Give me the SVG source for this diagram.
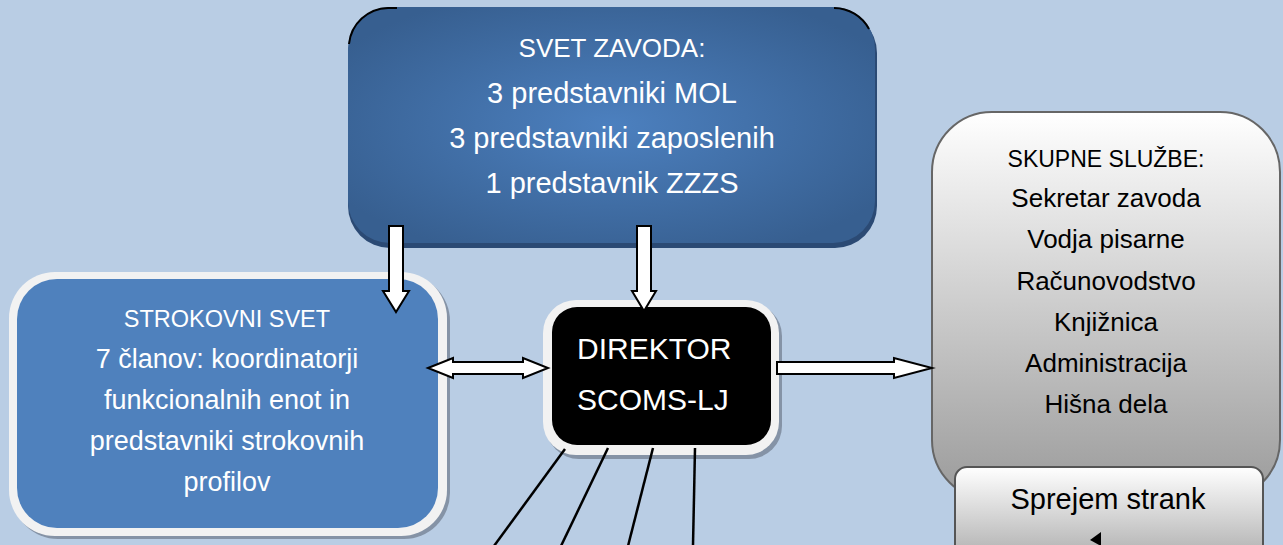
<svg xmlns="http://www.w3.org/2000/svg" width="1283" height="545" viewBox="0 0 1283 545">
<defs>
<radialGradient id="gTop" cx="0.5" cy="0.5" r="0.6">
<stop offset="0" stop-color="#4C80BF"/>
<stop offset="1" stop-color="#375F90"/>
</radialGradient>
<linearGradient id="gGray" x1="0" y1="0" x2="0" y2="1">
<stop offset="0" stop-color="#FFFFFF"/>
<stop offset="1" stop-color="#9A9A9A"/>
</linearGradient>
<linearGradient id="gBtn" x1="0" y1="0" x2="0" y2="1">
<stop offset="0" stop-color="#FFFFFF"/>
<stop offset="1" stop-color="#A8A8A8"/>
</linearGradient>
</defs>
<style>
.t{font-family:"Liberation Sans",Arial,sans-serif;text-anchor:middle}
.w{fill:#FFFFFF}
.k{fill:#000000}
.arr{fill:#FFFFFF;stroke:#000000;stroke-width:2;stroke-linejoin:miter}
.ln{stroke:#000000;stroke-width:2.5;fill:none}
</style>
<rect width="1283" height="545" fill="#B9CDE4"/>

<g id="svet-zavoda">
<rect x="348" y="11" width="529" height="237" rx="42" fill="#2B4A74"/>
<rect x="348" y="7" width="527" height="236" rx="42" fill="url(#gTop)"/>
<path d="M349,44 A40,40 0 0 1 388,8 L397,8" fill="none" stroke="#000" stroke-width="2"/>
<path d="M834,8 A40,40 0 0 1 869,29" fill="none" stroke="#000" stroke-width="2"/>
<text class="t w" x="612" y="57" font-size="26">SVET ZAVODA:</text>
<text class="t w" x="612" y="103" font-size="29">3 predstavniki MOL</text>
<text class="t w" x="612" y="148" font-size="29">3 predstavniki zaposlenih</text>
<text class="t w" x="612" y="193" font-size="29">1 predstavnik ZZZS</text>
</g>

<g id="strokovni-svet">
<rect x="12" y="275" width="438" height="264" rx="46" fill="#8593A6"/>
<rect x="9" y="272" width="438" height="264" rx="46" fill="#F2F2F2"/>
<rect x="17" y="279" width="421" height="249" rx="40" fill="#4F81BD"/>
<text class="t w" x="227" y="327" font-size="23.5">STROKOVNI SVET</text>
<text class="t w" x="227" y="368" font-size="27">7 članov: koordinatorji</text>
<text class="t w" x="227" y="409" font-size="27">funkcionalnih enot in</text>
<text class="t w" x="227" y="450" font-size="27">predstavniki strokovnih</text>
<text class="t w" x="227" y="491" font-size="27">profilov</text>
</g>

<g id="direktor">
<rect x="546" y="303" width="236" height="156" rx="33" fill="#8593A6"/>
<rect x="543" y="300" width="236" height="155" rx="33" fill="#F2F2F2"/>
<rect x="552" y="307" width="219" height="138" rx="25" fill="#000000"/>
<text class="w" x="577" y="359" font-size="30" font-family="Liberation Sans, Arial, sans-serif">DIREKTOR</text>
<text class="w" x="577" y="410" font-size="30" font-family="Liberation Sans, Arial, sans-serif">SCOMS-LJ</text>
</g>

<g id="skupne-sluzbe">
<rect x="932" y="112" width="348" height="388" rx="60" fill="url(#gGray)" stroke="#666666" stroke-width="2"/>
<text class="t k" x="1106" y="167" font-size="23">SKUPNE SLUŽBE:</text>
<text class="t k" x="1106" y="207" font-size="26">Sekretar zavoda</text>
<text class="t k" x="1106" y="248" font-size="26">Vodja pisarne</text>
<text class="t k" x="1106" y="290" font-size="26">Računovodstvo</text>
<text class="t k" x="1106" y="331" font-size="26">Knjižnica</text>
<text class="t k" x="1106" y="372" font-size="26">Administracija</text>
<text class="t k" x="1106" y="413" font-size="26">Hišna dela</text>
</g>

<g id="sprejem-strank">
<rect x="955" y="467" width="308" height="100" rx="12" fill="url(#gBtn)" stroke="#555555" stroke-width="2"/>
<text class="t k" x="1108" y="509" font-size="29">Sprejem strank</text>
<polygon points="1090,540 1101,532 1101,546" fill="#000000"/>
</g>

<g id="connectors">
<polygon class="arr" points="389,226 403,226 403,291 409,291 396,312 383,291 389,291"/>
<polygon class="arr" points="637,226 651,226 651,291 656,291 644,311 632,291 637,291"/>
<polygon class="arr" points="428,368 453,358 453,362 523,362 523,358 548,368 523,378 523,374 453,374 453,378"/>
<polygon class="arr" points="777,362 894,362 894,358 932,368 894,378 894,374 777,374"/>
<line class="ln" x1="565" y1="449" x2="494" y2="546"/>
<line class="ln" x1="608" y1="448" x2="561" y2="546"/>
<line class="ln" x1="653" y1="448" x2="628" y2="546"/>
<line class="ln" x1="695" y1="448" x2="693" y2="546"/>
</g>
</svg>
